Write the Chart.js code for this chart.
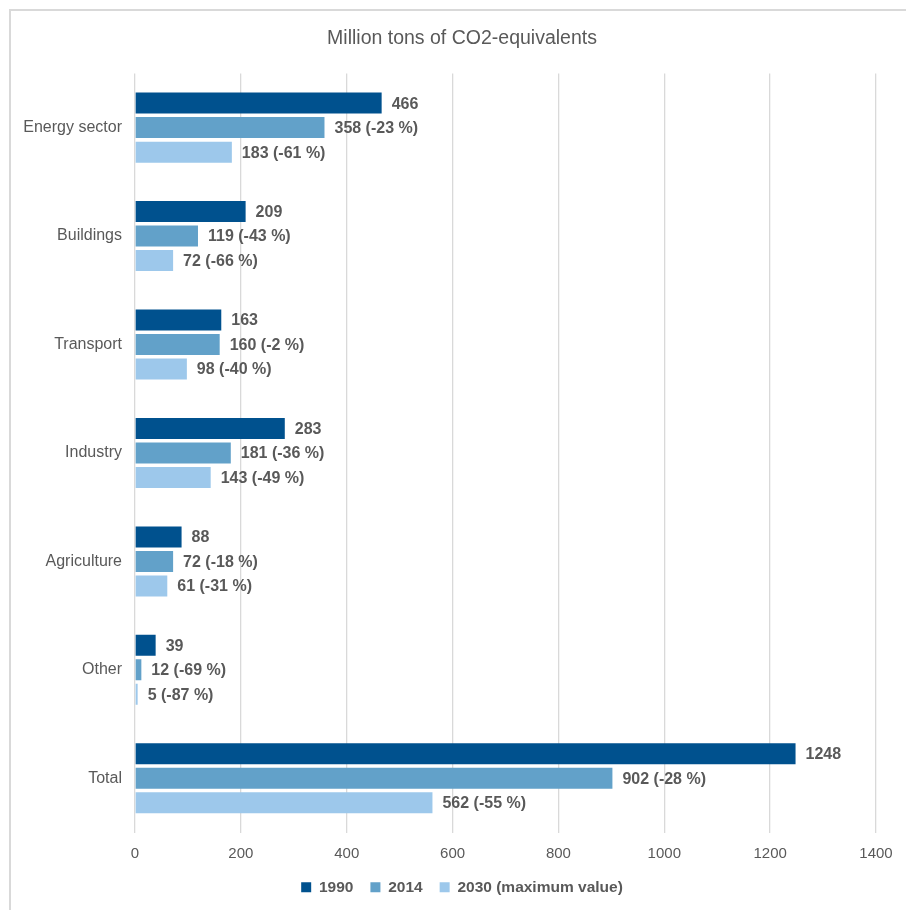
<!DOCTYPE html>
<html>
<head>
<meta charset="utf-8">
<script src="https://cdn.jsdelivr.net/npm/chart.js@4/dist/chart.umd.min.js"></script>
<style>
  html, body { margin: 0; padding: 0; background: #fff; overflow: hidden; }
  body { width: 906px; height: 910px; position: relative; }
  #frame {
    position: absolute; left: 9px; top: 9px;
    width: 902px; height: 910px;
    border-left: 2px solid #d9d9d9; border-top: 2px solid #d9d9d9;
  }
  #wrap { position: absolute; left: 0; top: 0; width: 902px; height: 899px; }
</style>
</head>
<body>
<div id="frame"><div id="wrap"><canvas id="c"></canvas></div></div>
<script>
// Emissions by sector, million tons CO2-equivalents
const categories = ['Energy sector', 'Buildings', 'Transport', 'Industry', 'Agriculture', 'Other', 'Total'];
const values1990 = [466, 209, 163, 283, 88, 39, 1248];
const values2014 = [358, 119, 160, 181, 72, 12, 902];
const values2030 = [183, 72, 98, 143, 61, 5, 562];
// Change versus 1990, in percent
const change2014 = [-23, -43, -2, -36, -18, -69, -28];
const change2030 = [-61, -66, -40, -49, -31, -87, -55];
const seriesNames = ['1990', '2014', '2030 (maximum value)'];
const xTicks = [0, 200, 400, 600, 800, 1000, 1200, 1400];

const FONT = '"Liberation Sans", Arial, sans-serif';
const TEXT = '#595959';

const changes = [null, change2014, change2030];

// Writes the value (and change versus 1990) to the right of each bar
const barLabels = {
  id: 'barLabels',
  afterDatasetsDraw(chart) {
    const ctx = chart.ctx;
    ctx.save();
    ctx.font = 'bold 16px ' + FONT;
    ctx.fillStyle = TEXT;
    ctx.textAlign = 'left';
    ctx.textBaseline = 'middle';
    chart.data.datasets.forEach((ds, di) => {
      const meta = chart.getDatasetMeta(di);
      meta.data.forEach((bar, i) => {
        let txt = String(ds.data[i]);
        if (changes[di]) txt += ' (' + changes[di][i] + ' %)';
        ctx.fillText(txt, bar.x + 10, bar.y + 1);
      });
    });
    ctx.restore();
  }
};

// Category names are wider than the y-axis box; let them use the left margin
const wideCategoryLabels = {
  id: 'wideCategoryLabels',
  afterLayout(chart) { chart.scales.y.left = 0; }
};

new Chart(document.getElementById('c'), {
  type: 'bar',
  data: {
    labels: categories,
    datasets: [
      { label: seriesNames[0], data: values1990, backgroundColor: '#00518E' },
      { label: seriesNames[1], data: values2014, backgroundColor: '#62A1C9' },
      { label: seriesNames[2], data: values2030, backgroundColor: '#9DC8EB' }
    ]
  },
  options: {
    indexAxis: 'y',
    responsive: true,
    maintainAspectRatio: false,
    animation: false,
    layout: { padding: { left: 37, right: 37, top: 0, bottom: 5 } },
    datasets: {
      bar: { categoryPercentage: 0.678, barPercentage: 0.857, borderWidth: 0 }
    },
    scales: {
      x: {
        min: 0, max: 1400,
        afterBuildTicks(scale) { scale.ticks = xTicks.map(v => ({ value: v })); },
        afterFit(scale) { scale.height -= 12; },
        grid: { color: '#d9d9d9', lineWidth: 1.3, drawTicks: false },
        border: { display: false },
        ticks: {
          color: TEXT, font: { family: FONT, size: 15 }, padding: 12,
          callback: v => String(v)
        }
      },
      y: {
        afterFit(scale) { scale.width = 87; },
        grid: { display: false, drawTicks: false },
        border: { display: false },
        ticks: { color: TEXT, font: { family: FONT, size: 16 }, padding: 13 }
      }
    },
    plugins: {
      title: {
        display: true,
        text: 'Million tons of CO2-equivalents',
        color: TEXT,
        font: { family: FONT, size: 19.5, weight: 'normal' },
        padding: { top: 16, bottom: 23 }
      },
      legend: {
        position: 'bottom',
        labels: {
          color: TEXT,
          font: { family: FONT, size: 15.5, weight: 'bold' },
          boxWidth: 10, boxHeight: 10,
          padding: 17
        }
      },
      tooltip: { enabled: false }
    }
  },
  plugins: [barLabels, wideCategoryLabels]
});
</script>
</body>
</html>
